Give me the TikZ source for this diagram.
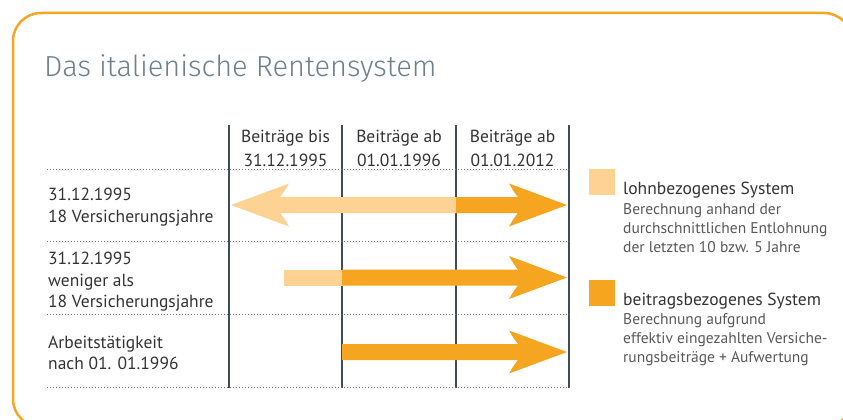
\documentclass[tikz,border=0pt]{standalone}
\usepackage{fontspec}
\setmainfont{PT Sans}
\newfontfamily\titelfont{Fira Sans Light}
\definecolor{lohn}{HTML}{FDD293}
\definecolor{beitrag}{HTML}{F6A521}
\definecolor{rahmen}{HTML}{F6A623}
\definecolor{linie}{HTML}{3E4D57}
\definecolor{titel}{HTML}{6E808C}
\definecolor{schrift}{HTML}{333333}
\definecolor{grau}{HTML}{585858}
% arrow pieces: from x, tip x, y, colour
\newcommand{\pfeilrechts}[4]{\fill[#4] (#1,#3-8) -- (#2-49,#3-8) .. controls (#2-53,#3-13) .. (#2-58,#3-21.5) -- (#2,#3) -- (#2-58,#3+21.5) .. controls (#2-53,#3+13) .. (#2-49,#3+8) -- (#1,#3+8) -- cycle;}
\newcommand{\pfeillinks}[4]{\fill[#4] (#1,#3-8) -- (#2+49,#3-8) .. controls (#2+53,#3-13) .. (#2+58,#3-21.5) -- (#2,#3) -- (#2+58,#3+21.5) .. controls (#2+53,#3+13) .. (#2+49,#3+8) -- (#1,#3+8) -- cycle;}
% multi-line nodes sit on the baseline of their last line
\tikzset{
  kopf/.style={anchor=base, inner sep=0pt, align=center, text=schrift,
    font=\fontsize{17.5}{24}\selectfont},
  zeile/.style={anchor=base west, inner sep=0pt, align=left, text=schrift,
    font=\fontsize{17.5}{21.5}\selectfont},
  legtitel/.style={anchor=base west, inner sep=0pt, text=schrift,
    font=\fontsize{17.5}{19}\selectfont},
  legtext/.style={anchor=base west, inner sep=0pt, align=left, text=grau,
    font=\fontsize{15.5}{19}\selectfont},
  punkte/.style={draw=black!55, line width=1pt, dash pattern=on 1pt off 2pt},
  spalte/.style={draw=linie, line width=2.6pt},
}
\begin{document}
\begin{tikzpicture}[x=1pt, y=-1pt]
        \useasboundingbox (0,0) rectangle (843,420);
        \draw[rahmen, line width=2.5pt, rounded corners=28pt] (13,13) rectangle (852,427);
        \node (titel) [anchor=base west, inner sep=0pt, text=titel,
          font=\titelfont\fontsize{29}{36}\selectfont] at (44,76.7) {Das italienische Rentensystem};
        % columns
        \coordinate (c0) at (229,125);
        \coordinate (c1) at (342,125);
        \coordinate (c2) at (456,125);
        \coordinate (c3) at (569,125);
        \foreach \c in {c0,c1,c2,c3}
                \draw[spalte] (\c) -- ++(0,263);
        % dotted rows
        \foreach \y in {169,241,314,387.5}
                \draw[punkte] (47,\y) -- (571,\y);
        \node (k1) [kopf] at (285.5,166.7) {Beiträge bis\\31.12.1995};
        \node (k2) [kopf] at (399,166.7) {Beiträge ab\\01.01.1996};
        \node (k3) [kopf] at (512.5,166.7) {Beiträge ab\\01.01.2012};
        \node (z1) [zeile] at (48,222) {31.12.1995\\18 Versicherungsjahre};
        \node (z2) [zeile] at (48,307.5) {31.12.1995\\weniger als\\18 Versicherungsjahre};
        \node (z3) [zeile] at (48,369.5) {Arbeitstätigkeit\\nach 01. 01.1996};
        % arrows
        \pfeillinks{456}{231}{205}{lohn}
        \pfeilrechts{456}{567}{205}{beitrag}
        \fill[lohn] (284,269.5) rectangle (342.5,285.5);
        \pfeilrechts{342}{567}{277.5}{beitrag}
        \pfeilrechts{342}{567}{352}{beitrag}
        % legend
        \fill[lohn] (589,169) rectangle (615,195);
        \fill[beitrag] (589,280) rectangle (615,306);
        \node (l1) [legtitel] at (623,194.3) {lohnbezogenes System};
        \node (l1t) [legtext] at (623,252) {Berechnung anhand der\\durchschnittlichen Entlohnung\\der letzten 10 bzw. 5 Jahre};
        \node (l2) [legtitel] at (623,305) {beitragsbezogenes System};
        \node (l2t) [legtext] at (623,362) {Berechnung aufgrund\\effektiv eingezahlten Versiche-\\rungsbeiträge + Aufwertung};
\end{tikzpicture}
\end{document}
